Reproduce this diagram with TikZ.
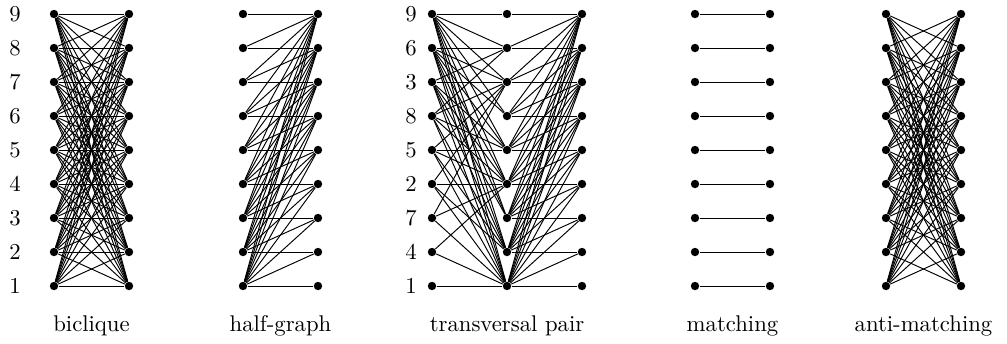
\documentclass[tikz,border=0pt]{standalone}
\usetikzlibrary{backgrounds}

\begin{document}
\begin{tikzpicture}[x=0.44pt, y=-0.44pt,
  vtx/.style={circle, fill=black, inner sep=0pt, minimum size=3.7pt},
  edge/.style={line width=0.42pt, black},
  rowlabel/.style={inner sep=0pt, font=\normalsize},
  caption/.style={anchor=base, inner sep=0pt, font=\normalsize}
]
\useasboundingbox (0,0) rectangle (1007,343);

% Vertices, row i (bottom to top)
\foreach \i in {1,...,9} {
  \pgfmathsetmacro{\yy}{320-34*\i}
  \pgfmathtruncatemacro{\lab}{3*mod(\i-1,3)+ceil(\i/3)}
  % biclique
  \node[rowlabel] (bn-\i) at (15,\yy) {\i};
  \node[vtx] (bl-\i) at (54,\yy) {};
  \node[vtx] (br-\i) at (129,\yy) {};
  % half-graph
  \node[vtx] (hl-\i) at (243,\yy) {};
  \node[vtx] (hr-\i) at (318,\yy) {};
  % transversal pair
  \node[rowlabel] (tn-\i) at (411,\yy) {\lab};
  \node[vtx] (tl-\i) at (432,\yy) {};
  \node[vtx] (tm-\i) at (507,\yy) {};
  \node[vtx] (tr-\i) at (582,\yy) {};
  % matching
  \node[vtx] (ml-\i) at (695,\yy) {};
  \node[vtx] (mr-\i) at (770,\yy) {};
  % anti-matching
  \node[vtx] (al-\i) at (886,\yy) {};
  \node[vtx] (ar-\i) at (961,\yy) {};
}

\begin{scope}[on background layer]
  % biclique: everything
  \foreach \i in {1,...,9}
    \foreach \j in {1,...,9}
      \draw[edge] (bl-\i) -- (br-\j);

  % half-graph: i <= j
  \foreach \i in {1,...,9}
    \foreach \j in {\i,...,9}
      \draw[edge] (hl-\i) -- (hr-\j);

  % transversal pair: left row i to middle row j when sigma(j) <= i
  \foreach \i in {1,...,9}
    \foreach \j in {1,...,9} {
      \pgfmathtruncatemacro{\s}{3*mod(\j-1,3)+ceil(\j/3)}
      \ifnum\s>\i\relax\else
        \draw[edge] (tl-\i) -- (tm-\j);
      \fi
    }
  \foreach \i in {1,...,9}
    \foreach \j in {\i,...,9}
      \draw[edge] (tm-\i) -- (tr-\j);

  % matching
  \foreach \i in {1,...,9}
    \draw[edge] (ml-\i) -- (mr-\i);

  % anti-matching: i != j
  \foreach \i in {1,...,9}
    \foreach \j in {1,...,9} {
      \ifnum\i=\j\relax\else
        \draw[edge] (al-\i) -- (ar-\j);
      \fi
    }
\end{scope}

% Captions
\node[caption] (cap-bi) at (91.5,331) {biclique};
\node[caption] (cap-hg) at (280.5,331) {half-graph};
\node[caption] (cap-tp) at (507,331) {transversal pair};
\node[caption] (cap-ma) at (732.5,331) {matching};
\node[caption] (cap-am) at (923.5,331) {anti-matching};

\end{tikzpicture}
\end{document}
